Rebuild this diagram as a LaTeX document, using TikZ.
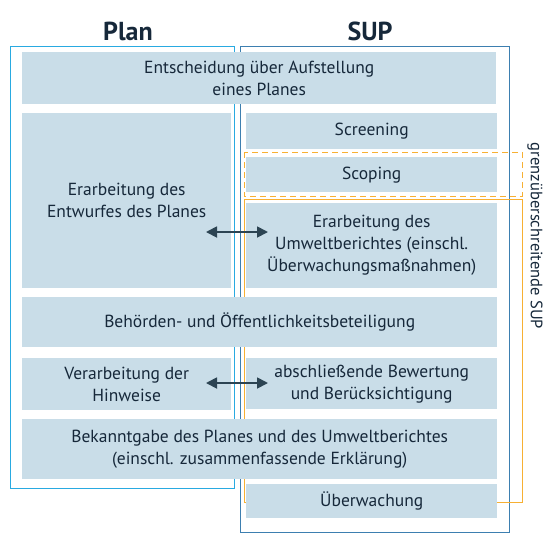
\documentclass[tikz,border=0pt]{standalone}
\usepackage{fontspec}
\setmainfont{PT Sans}
\usetikzlibrary{arrows.meta}
\definecolor{boxfill}{HTML}{C9DDE8}
\definecolor{txt}{HTML}{16283A}
\definecolor{planblue}{HTML}{29AAE1}
\definecolor{supblue}{HTML}{3D7FB0}
\definecolor{amber}{HTML}{F7B033}
\definecolor{arrcol}{HTML}{2C4453}
\tikzset{
  box/.style={fill=boxfill, draw=none, text=txt, align=center, anchor=north west,
    inner sep=0pt, font=\fontsize{17.5}{22}\selectfont},
  frame/.style={line width=1pt},
  title/.style={font=\fontsize{26}{30}\selectfont\bfseries, text=txt},
  biarrow/.style={draw=arrcol, line width=1.8pt, {Triangle[length=11pt,width=11pt]}-{Triangle[length=11pt,width=11pt]}}
}
\begin{document}
\begin{tikzpicture}[x=1pt,y=-1pt]
\useasboundingbox (0,0) rectangle (550,550);
% frames
\draw[frame, draw=planblue] (10,46) rectangle (234,488);
\draw[frame, draw=supblue] (240,46) rectangle (509,532);
\draw[frame, draw=amber, dashed, dash pattern=on 6pt off 4pt] (244,152) rectangle (522,196);
\draw[frame, draw=amber] (244,199) rectangle (522,502);
% titles
\node[title] (tplan) at (128,31) {Plan};
\node[title] (tsup) at (370,31) {SUP};
% boxes
\node[box, minimum width=474pt, minimum height=52pt] (ent) at (22,52) {Entscheidung über Aufstellung\\eines Planes};
\node[box, minimum width=209pt, minimum height=175pt] (erplan) at (22,113) {Erarbeitung des\\Entwurfes des Planes};
\node[box, minimum width=251pt, minimum height=36pt] (scr) at (246,113) {Screening};
\node[box, minimum width=251pt, minimum height=35pt] (sco) at (246,157) {Scoping};
\node[box, minimum width=251pt, minimum height=85pt] (umw) at (246,203) {Erarbeitung des\\Umweltberichtes (einschl.\\Überwachungsmaßnahmen)};
\node[box, minimum width=475pt, minimum height=50pt] (beh) at (22,297) {Behörden- und Öffentlichkeitsbeteiligung};
\node[box, minimum width=209pt, minimum height=52pt] (ver) at (22,358) {Verarbeitung der\\Hinweise};
\node[box, minimum width=251pt, minimum height=51pt] (abs) at (246,358) {abschließende Bewertung\\und Berücksichtigung};
\node[box, minimum width=475pt, minimum height=60pt] (bek) at (22,419) {Bekanntgabe des Planes und des Umweltberichtes\\(einschl. zusammenfassende Erklärung)};
\node[box, minimum width=251pt, minimum height=34pt] (ueb) at (246,484) {Überwachung};
% side label
\node[rotate=-90, text=txt, font=\fontsize{16.5}{22}\selectfont] (gren) at (535,236) {grenzüberschreitende SUP};
% arrows
\coordinate (a1l) at (206,232);
\coordinate (a1r) at (268,232);
\coordinate (a2l) at (206,383);
\coordinate (a2r) at (268,383);
\draw[biarrow] (a1l) -- (a1r);
\draw[biarrow] (a2l) -- (a2r);
\end{tikzpicture}
\end{document}
